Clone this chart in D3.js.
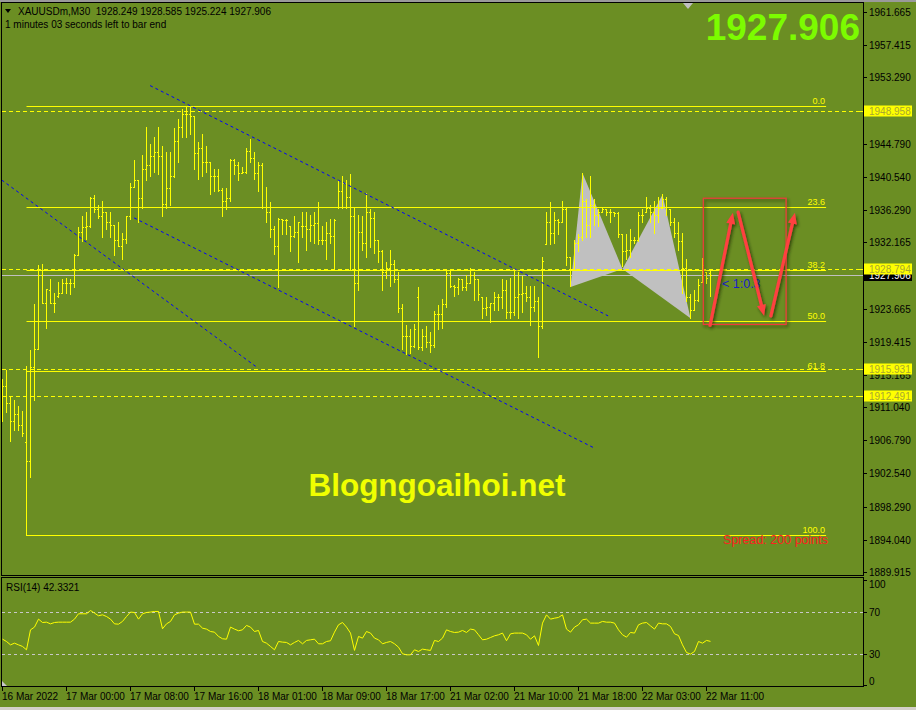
<!DOCTYPE html>
<html><head><meta charset="utf-8">
<script src="https://cdn.jsdelivr.net/npm/d3@7"></script>
<style>body{margin:0;background:#6B8E23;overflow:hidden}svg{display:block}</style>
</head><body><svg id="c" width="916" height="710"></svg>
<script>
// ---------------- DATA ----------------
const opens=[1912.6,1913.7,1911.6,1909.2,1910.1,1908.8,1906.6,1904.2,1916.2,1918.5,
1928.0,1924.4,1926.1,1924.4,1925.3,1925.7,1927.0,1927.0,1927.0,1930.5,
1933.5,1934.1,1934.3,1937.8,1936.4,1935.5,1936.0,1934.8,1934.4,1932.5,
1931.7,1932.6,1935.5,1939.3,1940.1,1937.8,1941.6,1942.1,1943.2,1943.7,
1943.2,1937.1,1939.1,1940.6,1945.1,1946.9,1948.6,1948.6,1948.3,1943.6,
1944.3,1942.5,1942.5,1940.7,1940.7,1938.8,1937.4,1937.8,1942.7,1942.1,
1941.1,1941.2,1943.8,1943.0,1941.1,1942.1,1936.7,1936.0,1933.8,1931.7,
1935.2,1935.0,1934.2,1933.0,1933.5,1934.3,1934.2,1933.8,1934.4,1934.6,
1932.5,1932.5,1933.4,1933.0,1936.7,1938.7,1939.8,1937.9,1935.5,1927.0,
1933.5,1932.1,1936.1,1935.3,1932.4,1931.0,1928.4,1928.9,1929.4,1927.4,
1923.7,1920.1,1920.1,1918.9,1925.1,1918.8,1920.1,1919.4,1919.0,1923.0,
1923.0,1924.3,1928.2,1926.5,1926.4,1927.5,1926.4,1927.0,1928.0,1927.5,
1925.2,1923.8,1923.9,1924.4,1925.1,1925.2,1926.1,1923.2,1923.2,1925.1,
1925.5,1925.7,1925.2,1923.9,1924.6,1921.4,1932.0,1934.8,1933.3,1935.0,
1934.8,1936.4,1930.3,1928.8,1932.1,1932.8,1937.4,1934.4,1937.0,1935.7,
1936.1,1936.4,1936.0,1936.1,1935.9,1933.2,1931.0,1931.2,1932.5,1932.5,
1935.7,1936.1,1936.6,1936.1,1935.7,1936.6,1937.7,1936.4,1934.8,1933.4,
1932.3,1928.9,1925.1,1923.5,1924.8,1927.1,1928.4,1928.249];
const highs=[1914.7,1915.8,1912.5,1912.0,1911.2,1910.6,1916.3,1918.3,1924.3,1929.3,
1929.4,1926.2,1927.5,1925.7,1927.1,1927.5,1927.6,1927.5,1930.6,1934.1,
1935.5,1936.1,1938.0,1938.2,1937.0,1937.4,1936.0,1936.0,1934.4,1934.7,
1933.4,1935.5,1939.8,1942.7,1940.2,1943.3,1946.9,1944.7,1945.7,1946.9,
1944.5,1943.7,1943.7,1946.8,1948.0,1949.2,1949.6,1949.5,1948.3,1945.0,
1946.0,1944.5,1942.5,1941.6,1941.5,1939.1,1939.1,1942.8,1942.8,1942.4,
1941.8,1944.3,1945.4,1943.7,1942.4,1942.3,1939.3,1937.3,1934.3,1935.3,
1935.2,1935.1,1934.3,1935.5,1934.7,1936.0,1936.0,1935.7,1936.0,1937.3,
1934.2,1934.8,1935.1,1935.1,1940.1,1940.7,1940.2,1940.9,1936.7,1935.7,
1935.5,1938.5,1936.4,1936.0,1932.5,1931.2,1929.6,1931.2,1929.9,1928.3,
1924.2,1921.5,1921.1,1921.7,1926.4,1921.0,1921.4,1920.7,1923.3,1924.1,
1924.9,1928.7,1928.5,1926.7,1927.6,1927.5,1928.0,1928.9,1928.3,1927.5,
1925.2,1925.1,1924.4,1925.8,1925.5,1927.4,1927.3,1927.6,1928.8,1928.3,
1927.9,1926.5,1926.5,1926.5,1925.2,1930.3,1936.0,1937.3,1936.0,1935.1,
1937.4,1936.6,1930.3,1932.5,1933.2,1941.1,1937.7,1940.6,1937.7,1936.4,
1936.6,1936.4,1936.4,1936.1,1936.1,1933.2,1933.2,1933.8,1932.9,1936.0,
1936.4,1938.0,1937.0,1937.4,1938.0,1938.3,1937.9,1936.4,1935.3,1934.8,
1933.4,1930.0,1925.5,1926.1,1927.4,1930.2,1928.4,1928.585];
const lows=[1909.2,1910.4,1906.7,1908.1,1908.1,1907.4,1894.65,1902.1,1912.0,1918.5,
1924.4,1921.2,1924.4,1923.2,1925.1,1925.7,1925.7,1925.5,1926.4,1930.5,
1932.3,1932.6,1934.1,1936.1,1935.3,1932.9,1933.8,1932.8,1930.5,1931.7,
1930.0,1932.1,1935.1,1939.2,1934.7,1936.6,1940.2,1940.6,1941.2,1940.9,
1935.5,1936.6,1936.9,1940.5,1942.5,1945.7,1945.7,1946.0,1941.5,1940.3,
1940.6,1941.2,1938.3,1938.7,1938.7,1935.5,1936.4,1937.4,1940.9,1940.2,
1941.0,1941.1,1942.4,1940.3,1938.7,1936.6,1934.7,1932.8,1930.7,1926.4,
1933.2,1933.2,1931.0,1932.9,1929.6,1932.9,1931.2,1932.3,1932.1,1931.9,
1931.9,1930.0,1932.1,1928.8,1936.6,1936.6,1936.6,1928.7,1921.4,1926.1,
1931.2,1930.3,1931.5,1930.8,1929.6,1926.1,1927.6,1926.5,1927.1,1923.2,
1918.5,1917.8,1918.0,1918.8,1918.5,1918.4,1918.8,1918.1,1918.8,1921.1,
1921.2,1923.9,1926.4,1925.3,1925.5,1926.1,1926.1,1927.0,1924.8,1924.8,
1922.5,1922.9,1921.9,1923.5,1923.5,1923.7,1922.5,1922.5,1922.9,1922.5,
1923.2,1924.6,1921.5,1923.3,1917.5,1921.2,1932.0,1932.0,1932.1,1933.2,
1934.7,1929.3,1926.5,1928.7,1931.0,1932.5,1932.9,1932.9,1934.4,1934.2,
1936.0,1935.7,1934.7,1935.5,1932.9,1929.1,1930.0,1930.3,1932.1,1932.3,
1934.7,1936.0,1934.7,1933.4,1934.7,1936.6,1935.7,1934.4,1932.8,1931.2,
1925.7,1924.6,1922.5,1923.5,1924.6,1927.1,1927.0,1925.224];
const closes=[1913.7,1911.6,1909.2,1910.1,1908.8,1907.7,1904.2,1916.2,1918.5,1928.0,
1924.4,1926.2,1924.4,1924.4,1925.7,1927.0,1927.0,1927.0,1930.5,1933.5,
1934.1,1934.3,1937.8,1936.4,1935.5,1936.0,1934.8,1934.4,1932.5,1931.7,
1932.6,1935.5,1939.3,1940.1,1937.8,1941.6,1942.1,1943.2,1943.7,1943.2,
1937.1,1939.1,1940.6,1945.1,1946.9,1948.6,1948.6,1948.3,1943.6,1944.3,
1942.5,1942.5,1940.7,1940.7,1938.8,1937.4,1937.8,1942.7,1942.1,1941.1,
1941.2,1943.8,1943.0,1941.1,1942.1,1936.7,1936.0,1933.8,1931.7,1935.2,
1935.0,1935.0,1933.0,1933.5,1934.7,1934.2,1933.8,1934.4,1934.6,1932.5,
1932.5,1933.4,1933.0,1935.0,1938.7,1939.8,1937.9,1935.5,1927.0,1933.5,
1932.1,1936.1,1935.3,1932.4,1931.0,1928.4,1928.9,1929.4,1927.4,1923.7,
1920.1,1920.1,1918.9,1921.1,1918.8,1920.1,1919.4,1919.0,1923.0,1923.0,
1924.3,1928.2,1926.5,1926.4,1927.5,1926.4,1927.0,1928.0,1927.5,1925.5,
1923.8,1923.9,1924.4,1925.1,1925.2,1926.1,1923.2,1923.2,1925.1,1925.5,
1925.7,1925.2,1923.9,1924.6,1921.4,1929.8,1934.8,1933.3,1935.0,1934.8,
1936.4,1930.3,1928.8,1932.1,1932.8,1937.4,1934.4,1937.0,1935.7,1936.1,
1936.4,1936.0,1936.1,1935.9,1933.2,1931.0,1931.2,1932.5,1932.5,1935.7,
1935.7,1936.6,1936.1,1935.7,1936.6,1937.7,1936.7,1934.8,1933.4,1932.3,
1928.9,1925.1,1923.5,1924.8,1926.7,1929.3,1927.6,1927.906];
const rsiValues=[44.4,42.2,39.0,40.6,39.0,37.5,34.3,53.3,55.9,63.5,
60.3,60.6,59.0,60.3,60.6,60.6,60.6,60.6,63.5,68.6,
68.6,68.6,71.7,69.2,66.7,67.6,66.0,63.5,59.0,58.7,
61.3,66.0,70.2,69.8,63.5,68.6,69.8,70.2,70.8,70.8,
54.3,59.0,61.3,67.6,69.2,70.2,70.2,70.2,58.7,58.7,
54.9,54.0,51.7,51.1,47.0,44.8,44.4,55.9,54.0,52.4,
53.3,57.5,55.9,51.7,52.7,42.2,40.6,37.5,34.3,42.2,
41.6,41.3,39.0,41.3,43.2,40.0,43.2,43.8,44.4,40.0,
40.0,42.2,42.9,51.1,58.1,60.3,55.9,50.2,33.7,47.0,
45.4,51.7,50.2,45.4,43.8,40.0,41.3,42.2,40.0,36.8,
30.5,29.5,29.5,34.3,32.7,34.9,34.3,33.7,43.2,42.2,
45.4,53.3,51.7,50.8,51.1,52.7,50.8,54.0,53.3,48.6,
43.8,44.4,46.0,47.6,48.6,50.2,42.9,49.5,50.2,50.2,
50.2,48.6,44.4,47.6,38.4,59.7,67.6,63.5,64.4,65.1,
67.6,54.0,51.1,55.9,58.1,62.9,63.5,59.7,59.7,59.7,
61.3,60.6,60.6,59.7,53.3,48.6,46.3,50.8,50.2,58.1,
59.7,60.3,57.1,54.0,59.7,59.0,59.0,56.5,49.5,47.9,
39.0,31.7,30.2,32.7,42.2,40.6,43.2,42.3];
const timeLabels=["16 Mar 2022","17 Mar 00:00","17 Mar 08:00","17 Mar 16:00","18 Mar 01:00","18 Mar 09:00","18 Mar 17:00","21 Mar 02:00","21 Mar 10:00","21 Mar 18:00","22 Mar 03:00","22 Mar 11:00"];
const timeLabelBars=[0,16,32,48,64,80,96,112,128,144,160,176];
const priceTicks=[1961.665,1957.415,1953.290,1944.790,1940.540,1936.290,1932.165,1923.665,1919.415,1915.165,1911.040,1906.790,1902.540,1898.290,1894.040,1889.915];
const rsiTicks=[100,70,30,0];
const rsiLevels=[70,30];
const fibLevels=[0,23.6,38.2,50,61.8,100];
const fibHigh=1949.6, fibLow=1894.65, fibStartBar=6, fibEndBar=205.9;
const levelLines=[1948.958,1928.794,1915.931,1912.491];
const lastPrice=1927.906;
const channelLines=[[[36.9,1952.3],[151.4,1922.8]],[[-0.2,1940.2],[63.9,1916.1]],[[32.9,1935.35],[148.2,1905.8]]];
const harmonicXAB=[[142,1926.5],[145,1941.1],[155,1928.8]];
const harmonicBCD=[[155,1928.8],[165,1938.3],[172,1922.5]];
const boxCorners=[[175.2,1937.87],[195.9,1921.7]];
const arrows=[[[176.9,1921.6],[182.6,1936.0]],[[183.9,1936.1],[190.4,1922.8]],[[192.1,1922.8],[198.1,1936.0]]];

// ---------------- DRAW ----------------
const svg=d3.select('#c');
const FONT='"Liberation Sans", Arial, sans-serif';
const BG='#6B8E23';
svg.append('rect').attr('width',916).attr('height',710).attr('fill',BG);
svg.append('rect').attr('width',916).attr('height',2).attr('fill','#9a9a9a');
svg.append('rect').attr('y',707).attr('width',916).attr('height',3).attr('fill','#d4d0c8');

const defs=svg.append('defs');
const f=defs.append('filter').attr('id','sh').attr('x','-50%').attr('y','-50%').attr('width','200%').attr('height','200%');
f.append('feDropShadow').attr('dx',1.5).attr('dy',2).attr('stdDeviation',1.5).attr('flood-color','#1f2a05').attr('flood-opacity',0.75);
defs.append('clipPath').attr('id','mainclip').append('rect').attr('x',2).attr('y',3).attr('width',861).attr('height',572);
defs.append('clipPath').attr('id','rsiclip').append('rect').attr('x',2).attr('y',578).attr('width',861).attr('height',108);

const x=d3.scaleLinear().domain([0,177]).range([2.5,710.5]);
const y=d3.scaleLinear().domain([1889.915,1961.665]).range([572.5,12.5]);
const yr=d3.scaleLinear().domain([0,100]).range([685.8,580.8]);
const row=v=>Math.round(y(v)-0.5);

const main=svg.append('g').attr('clip-path','url(#mainclip)');

// harmonic triangles
[harmonicXAB,harmonicBCD].forEach(t=>{
  main.append('polygon').attr('points',t.map(p=>[x(p[0]),y(p[1])].join(',')).join(' ')).attr('fill','#C0C0C0');
});

// fibonacci lines
const fibPrice=l=>fibHigh-(fibHigh-fibLow)*l/100;
fibLevels.forEach(l=>{
  const yy=row(fibPrice(l))+0.5;
  main.append('line').attr('x1',x(fibStartBar)).attr('x2',x(fibEndBar)).attr('y1',yy).attr('y2',yy).attr('stroke','#FFFF00').attr('stroke-width',1);
  main.append('text').attr('x',x(fibEndBar)-1).attr('y',yy-3).attr('text-anchor','end').attr('font-family',FONT).attr('font-size',9).attr('fill','#FFFF00').text(l===0?'0.0':l.toFixed(1));
});
main.append('line').attr('x1',x(fibStartBar)).attr('x2',x(fibStartBar)).attr('y1',row(fibPrice(61.8))).attr('y2',row(fibLow)+0.5).attr('stroke','#FFFF00');

// level dashed lines
levelLines.forEach(v=>{
  const yy=row(v)+0.5;
  main.append('line').attr('x1',2).attr('x2',863).attr('y1',yy).attr('y2',yy).attr('stroke','#FFFF00').attr('stroke-dasharray','4,3');
});
// current price line
main.append('line').attr('x1',2).attr('x2',863).attr('y1',row(lastPrice)+0.5).attr('y2',row(lastPrice)+0.5).attr('stroke','#C0C0C0');

// bars
const bars=main.append('g').attr('fill','#FFFF00');
opens.forEach((o,i)=>{
  const c=Math.round(x(i)-0.5);
  const t=row(highs[i]), b=row(lows[i]);
  bars.append('rect').attr('x',c).attr('y',t).attr('width',1).attr('height',b-t+1);
  bars.append('rect').attr('x',c-1).attr('y',row(o)).attr('width',1).attr('height',1);
  bars.append('rect').attr('x',c+1).attr('y',row(closes[i])).attr('width',1).attr('height',1);
});

// blue channel lines
channelLines.forEach(l=>{
  main.append('line').attr('x1',x(l[0][0])).attr('y1',y(l[0][1])).attr('x2',x(l[1][0])).attr('y2',y(l[1][1]))
    .attr('stroke','#0000FF').attr('stroke-width',1).attr('stroke-dasharray','3,3');
});

// ratio text
main.append('text').attr('x',722).attr('y',288).attr('font-family',FONT).attr('font-size',12.5).attr('fill','#1a1ad0').text('< 1:0.3');

// red rectangle and arrows
const ar=main.append('g').attr('filter','url(#sh)');
ar.append('rect').attr('x',x(boxCorners[0][0])).attr('y',y(boxCorners[0][1])).attr('width',x(boxCorners[1][0])-x(boxCorners[0][0])).attr('height',y(boxCorners[1][1])-y(boxCorners[0][1]))
  .attr('fill','none').attr('stroke','#EE3B3B').attr('stroke-width',1.2);
arrows.forEach(a=>{
  const x1=x(a[0][0]),y1=y(a[0][1]),x2=x(a[1][0]),y2=y(a[1][1]);
  const ang=Math.atan2(y2-y1,x2-x1),L=11,Wd=4.5;
  const bx=x2-L*Math.cos(ang),by=y2-L*Math.sin(ang);
  const px=-Math.sin(ang),py=Math.cos(ang);
  ar.append('line').attr('x1',x1).attr('y1',y1).attr('x2',bx).attr('y2',by).attr('stroke','#FF4040').attr('stroke-width',3.2).attr('stroke-linecap','round');
  ar.append('polygon').attr('points',[[x2,y2],[bx+px*Wd,by+py*Wd],[bx-px*Wd,by-py*Wd]].map(p=>p.join(',')).join(' ')).attr('fill','#FF4040');
});

// texts in main
main.append('text').attr('x',860).attr('y',40).attr('text-anchor','end').attr('font-family',FONT).attr('font-weight','bold').attr('font-size',37).attr('fill','#7CFC00').text('1927.906');
main.append('text').attr('x',437).attr('y',496).attr('text-anchor','middle').attr('font-family',FONT).attr('font-weight','bold').attr('font-size',31.5).attr('fill','#F0FF00').text('Blogngoaihoi.net');
main.append('text').attr('x',828).attr('y',544).attr('text-anchor','end').attr('font-family',FONT).attr('font-size',12.5).attr('fill','#FF2020').text('Spread: 200 points');
main.append('path').attr('d','M5,9 L11,9 L8,13 Z').attr('fill','#000');
main.append('text').attr('x',18).attr('y',15).attr('font-family',FONT).attr('font-size',10).attr('fill','#000').attr('xml:space','preserve').text('XAUUSDm,M30  1928.249 1928.585 1925.224 1927.906');
main.append('text').attr('x',5).attr('y',28).attr('font-family',FONT).attr('font-size',10).attr('fill','#000').text('1 minutes 03 seconds left to bar end');
main.append('path').attr('d','M683,3 L693,3 L688,9 Z').attr('fill','#C0C0C0');

// frames
svg.append('rect').attr('x',1.5).attr('y',2.5).attr('width',862).attr('height',573).attr('fill','none').attr('stroke','#000');
svg.append('rect').attr('x',1.5).attr('y',577.5).attr('width',862).attr('height',109).attr('fill','none').attr('stroke','#000');

// price axis
const ax=svg.append('g');
priceTicks.forEach(v=>{
  const yy=row(v)+0.5;
  ax.append('line').attr('x1',864).attr('x2',867).attr('y1',yy).attr('y2',yy).attr('stroke','#000');
  ax.append('text').attr('x',869).attr('y',yy+3.5).attr('font-family',FONT).attr('font-size',10).attr('fill','#000').text(v.toFixed(3));
});
{
  const yy=row(lastPrice)+0.5;
  ax.append('rect').attr('x',864).attr('y',yy-5.5).attr('width',48).attr('height',11).attr('fill','#000');
  ax.append('text').attr('x',869).attr('y',yy+3.5).attr('font-family',FONT).attr('font-size',10).attr('fill','#fff').text(lastPrice.toFixed(3));
}
levelLines.forEach(v=>{
  const yy=row(v)+0.5;
  ax.append('rect').attr('x',864).attr('y',yy-6).attr('width',48).attr('height',11).attr('fill','#FFFF00');
  ax.append('text').attr('x',869).attr('y',yy+3.5).attr('font-family',FONT).attr('font-size',10).attr('fill','#a8a830').text(v.toFixed(3));
  ax.append('line').attr('x1',860).attr('x2',863).attr('y1',yy).attr('y2',yy).attr('stroke','#FFFF00');
});

// RSI panel
const rg=svg.append('g').attr('clip-path','url(#rsiclip)');
rsiLevels.forEach(v=>{
  const yy=Math.round(yr(v)-0.5)+0.5;
  rg.append('line').attr('x1',2).attr('x2',863).attr('y1',yy).attr('y2',yy).attr('stroke','#C8C8C8').attr('stroke-dasharray','3,3');
});
rg.append('path').datum(rsiValues).attr('fill','none').attr('stroke','#FFFF00').attr('stroke-width',1)
  .attr('d',d3.line().x((d,i)=>x(i)).y(d=>yr(d)));
rg.append('text').attr('x',6).attr('y',591).attr('font-family',FONT).attr('font-size',10).attr('fill','#000').text('RSI(14) 42.3321');
rg.append('path').attr('d','M2,681 L2,686 L7,686 Z').attr('fill','#C8C8C8');
rsiTicks.forEach(v=>{
  const yy=Math.round(yr(v)-0.5)+0.5;
  svg.append('line').attr('x1',864).attr('x2',867).attr('y1',yy).attr('y2',yy).attr('stroke','#000');
  const ty=v===100?yy+7:(v===0?yy-1:yy+3.5);
  svg.append('text').attr('x',869).attr('y',ty).attr('font-family',FONT).attr('font-size',10).attr('fill','#000').text(v);
});

// time axis
timeLabelBars.forEach((b,k)=>{
  const xx=Math.round(x(b)-0.5)+0.5;
  svg.append('line').attr('x1',xx).attr('x2',xx).attr('y1',687).attr('y2',691).attr('stroke','#000');
  svg.append('text').attr('x',xx-0.5).attr('y',700).attr('font-family',FONT).attr('font-size',10).attr('fill','#000').text(timeLabels[k]);
});
</script></body></html>
